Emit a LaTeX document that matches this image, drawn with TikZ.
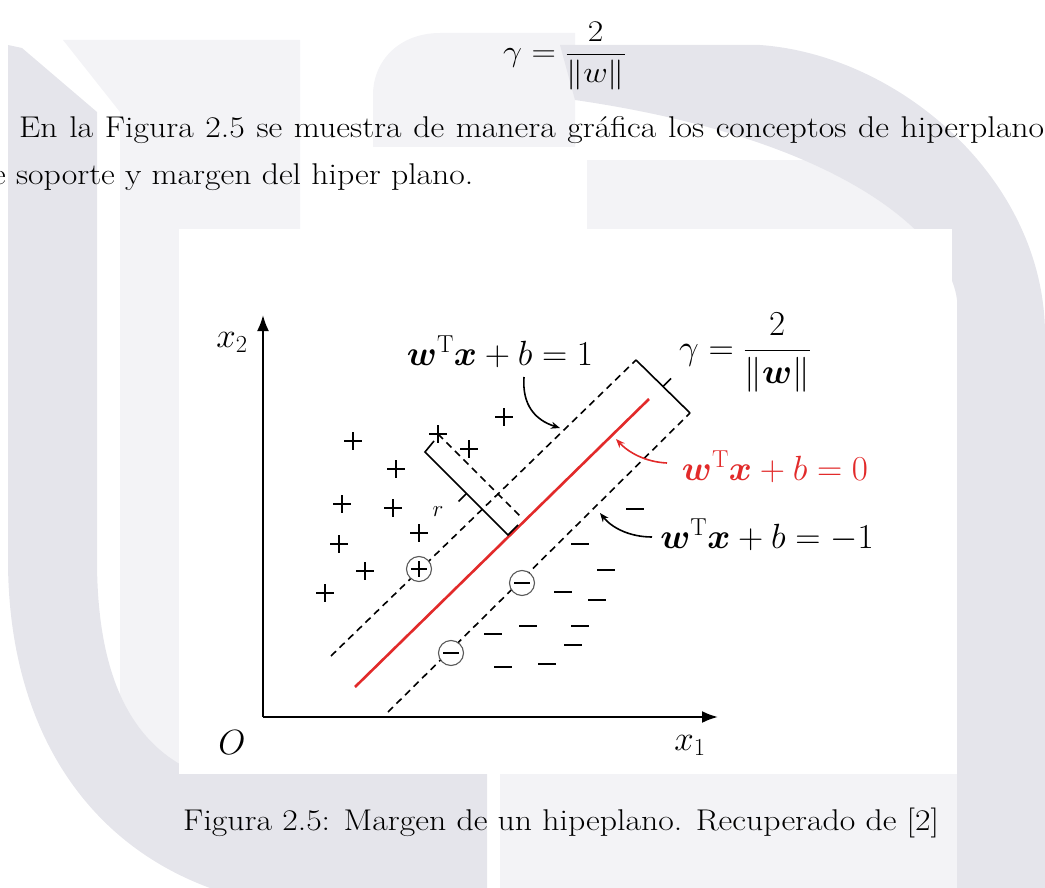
\RequirePackage{fix-cm}
\documentclass[tikz,border=0pt]{standalone}
\usepackage{fontspec}
\usepackage{amsmath}
\usepackage{bm}
\usetikzlibrary{arrows.meta}
\definecolor{wmdark}{RGB}{229,229,235}
\definecolor{wmlight}{RGB}{243,243,246}
\definecolor{svmred}{RGB}{226,42,42}
\newcommand{\wide}[1]{\scalebox{1.125}[1]{#1}}
\tikzset{
  bodytext/.style={inner sep=0pt, font=\fontsize{30}{36}\selectfont},
  figlabel/.style={inner sep=0pt, font=\fontsize{35}{42}\selectfont},
  axisline/.style={line width=2.2pt, -{Latex[length=16pt,width=12pt]}},
  hyperline/.style={line width=1.6pt, dash pattern=on 7pt off 5pt},
  bracketline/.style={line width=1.6pt},
  callout/.style={line width=1.6pt, -{Stealth[length=9pt,width=7pt]}},
  markline/.style={line width=1.3pt},
  svcircle/.style={circle, draw=black!65, line width=1.1pt, fill=white, minimum size=25pt, inner sep=0pt},
  plusmark/.pic={\draw[markline] (-9,0) -- (9,0) (0,-9) -- (0,9);},
  minusmark/.pic={\draw[markline] (-9,0) -- (9,0);},
  smallplus/.pic={\draw[markline] (-8,0) -- (8,0) (0,-8) -- (0,8);},
  smallminus/.pic={\draw[markline] (-8,0) -- (8,0);}
}
\begin{document}
\begin{tikzpicture}[x=1pt,y=-1pt]
\useasboundingbox (0,0) rectangle (1045,888);
% ---------- watermark ----------
\fill[wmlight] (63,40) -- (300,40) -- (300,229) -- (179,229) -- (179,774) -- (120,774) -- (120,112) -- cycle;
\fill[wmlight] (373,147) -- (373,95) .. controls (373,60) and (400,33) .. (440,33) -- (575,33) -- (575,147) -- cycle;
\fill[wmlight] (587,160) -- (950,160) -- (950,229) -- (587,229) -- cycle;
\fill[wmlight] (500,774) -- (957,774) -- (957,888) -- (500,888) -- cycle;
\fill[wmdark] (8,45) -- (22,48) -- (97,112) -- (97,560) .. controls (97,690) and (140,750) .. (200,774)
   -- (487,774) -- (487,888) -- (210,888) .. controls (80,840) and (8,720) .. (8,560) -- cycle;
\fill[wmdark] (560,45) -- (760,45) .. controls (900,55) and (1045,180) .. (1045,335)
   -- (1045,888) -- (957,888) -- (957,300) .. controls (950,240) and (850,140) .. (575,100) -- cycle;
% ---------- page text ----------
\node[bodytext, anchor=base west] (eq) at (503,61.5) {\wide{$\displaystyle \gamma = \frac{2}{\|w\|}$}};
\node[bodytext, anchor=base west] (line1) at (19,138) {\wide{\makebox[911pt][s]{En la Figura 2.5 se muestra de manera gráfica los conceptos de hiperplano}}};
\node[bodytext, anchor=base west] (line2) at (-8,185) {\wide{e soporte y margen del hiper plano.}};
% ---------- figure box ----------
\fill[white] (179,229) rectangle (952,774);
\node[bodytext, anchor=base west] (caption) at (183,830) {\wide{Figura 2.5: Margen de un hipeplano. Recuperado de [2]}};
% ---------- axes ----------
\coordinate (orig) at (263,717);
\coordinate (xend) at (718,717);
\coordinate (yend) at (263,315);
\draw[axisline] (orig) -- (xend);
\draw[axisline] (orig) -- (yend);
\node[figlabel, anchor=base] (lx2) at (232,347) {$x_2$};
\node[figlabel, anchor=base] (lx1) at (690,750) {$x_1$};
\node[figlabel, anchor=base] (lO) at (232,754) {$O$};
% ---------- hyperplanes ----------
\coordinate (ra) at (355,687);
\coordinate (rb) at (649,399);
\coordinate (ua) at (331,656);
\coordinate (ub) at (636,360);
\coordinate (la) at (388,712);
\coordinate (lb) at (690,413);
\draw[hyperline] (ua) -- (ub);
\draw[hyperline] (la) -- (lb);
\draw[svmred, line width=2.6pt] (ra) -- (rb);
% margin bracket
\coordinate (gm) at (663,386.5);
\coordinate (gt) at (671,378.5);
\draw[bracketline] (ub) -- (lb);
\draw[bracketline] (gm) -- (gt);
% distance r
\coordinate (xp) at (438,434);
\coordinate (foot) at (522,518);
\draw[hyperline] (xp) -- (foot);
\coordinate (b1) at (434,441);
\coordinate (b2) at (425,452);
\coordinate (b3) at (508,535);
\coordinate (b4) at (518,525);
\draw[bracketline] (b1) -- (b2) -- (b3) -- (b4);
\coordinate (rm) at (466.5,493.5);
\coordinate (rt) at (458.5,501.5);
\draw[bracketline] (rm) -- (rt);
\node[inner sep=0pt, font=\fontsize{23}{26}\selectfont] (lr) at (438,512) {$r$};
% ---------- samples ----------
\foreach \p in {(353,441),(396,469),(438,434),(469,449),(504,417),(342,504),(393,508),(419,533),(339,544),(365,571),(325,593)}
  \pic at \p {plusmark};
\foreach \p in {(635,509),(580,544),(606,570),(563,592),(597,600),(528,626),(580,626),(493,634),(573,645),(503,667),(547,664)}
  \pic at \p {minusmark};
\node[svcircle] (sv1) at (419,569) {};
\node[svcircle] (sv2) at (522,583) {};
\node[svcircle] (sv3) at (451,653) {};
\pic at (sv1) {smallplus};
\pic at (sv2) {smallminus};
\pic at (sv3) {smallminus};
% ---------- labels ----------
\node[figlabel, anchor=base] (lp) at (500,365) {$\bm{w}^{\mathrm{T}}\bm{x}+b=1$};
\node[figlabel, anchor=base west] (lg) at (679,359) {$\gamma=\dfrac{2}{\|\bm{w}\|}$};
\node[figlabel, anchor=base, text=svmred] (l0) at (775,480) {$\bm{w}^{\mathrm{T}}\bm{x}+b=0$};
\node[figlabel, anchor=base] (lm) at (767,548) {$\bm{w}^{\mathrm{T}}\bm{x}+b=-1$};
% ---------- callouts ----------
\coordinate (c1s) at (524,377);
\coordinate (c1e) at (560,428);
\draw[callout] (c1s) .. controls (522,405) and (535,420) .. (c1e);
\coordinate (c2s) at (667,463);
\coordinate (c2e) at (616,439);
\draw[callout, svmred] (c2s) .. controls (645,462) and (628,452) .. (c2e);
\coordinate (c3s) at (652,537);
\coordinate (c3e) at (600,513);
\draw[callout] (c3s) .. controls (630,537) and (612,528) .. (c3e);
\end{tikzpicture}
\end{document}
